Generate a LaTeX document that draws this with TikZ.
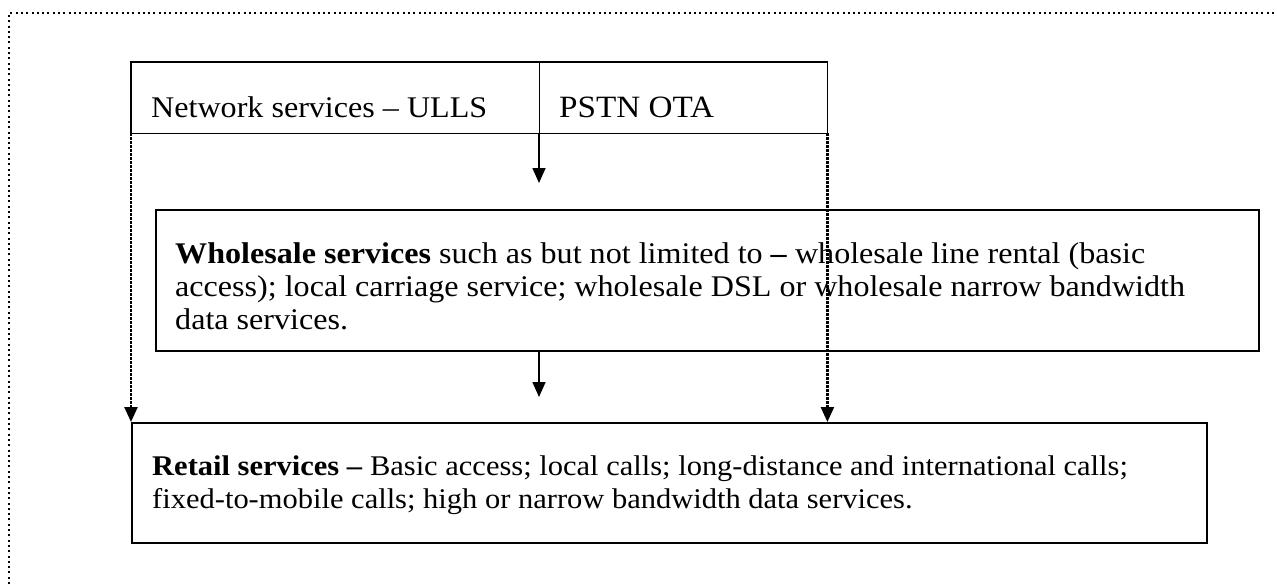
\documentclass[tikz,border=0pt]{standalone}
\usepackage{fontspec}
\setmainfont{Liberation Serif}[FakeStretch=1.07]
\usetikzlibrary{arrows.meta}

\tikzset{
  box/.style={draw, line width=1.8pt, inner sep=0pt, anchor=north west},
  cell/.style={inner sep=0pt, anchor=north west},
  txt/.style={inner sep=0pt, anchor=base west, align=left,
    font=\fontsize{30}{33}\selectfont},
  flow/.style={line width=1.6pt, -{Triangle[length=15pt,width=13pt]}},
  link/.style={line width=2.4pt, dash pattern=on 2.4pt off 1.6pt,
    -{Triangle[length=15pt,width=13pt]}},
  frame/.style={line width=2pt, dash pattern=on 2pt off 3.3pt}
}

\begin{document}
\begin{tikzpicture}[x=1pt, y=-1pt]
  \useasboundingbox (0,0) rectangle (1277,584);

  % outer frame (only top and left edges show)
  \draw[frame] (9,584) -- (9,13) -- (1277,13);

  % network services
  \node[cell, minimum width=408pt, minimum height=71pt] (ulls) at (131,62) {};
  \node[cell, minimum width=288pt, minimum height=71pt] (ota) at (539,62) {};
  \draw[line width=1.8pt] (ulls.north west) rectangle (ota.south east);
  \draw[line width=0.8pt] (ota.north west) -- (ota.south west);
  \node[txt] (ullstext) at (151,117) {Network services – ULLS};
  \node[txt, font=\fontsize{31}{33}\selectfont] (otatext) at (559,117) {PSTN OTA};

  % wholesale services
  \node[box, minimum width=1103pt, minimum height=141pt] (whole) at (155,209) {};
  \node[txt] (wholetext) at (175,329)
    {\textbf{Wholesale services} such as but not limited to \textbf{–} wholesale line rental (basic\\
     access); local carriage service; wholesale DSL or wholesale narrow bandwidth\\
     data services.};

  % retail services
  \node[box, minimum width=1075pt, minimum height=120pt] (retail) at (131,422) {};
  \node[txt, font=\fontsize{28.5}{33}\selectfont] (retailtext) at (152,508)
    {\textbf{Retail services –} Basic access; local calls; long-distance and international calls;\\
     fixed-to-mobile calls; high or narrow bandwidth data services.};

  % connectors
  \coordinate (a1) at (539,183);
  \coordinate (a2) at (539,397);
  \draw[flow] (ota.south west) -- (a1);
  \draw[flow] (ota.south west |- whole.south) -- (a2);
  \draw[link] (ulls.south west) -- (retail.north west);
  \draw[link] (ota.south east) -- (ota.south east |- retail.north);
\end{tikzpicture}
\end{document}
